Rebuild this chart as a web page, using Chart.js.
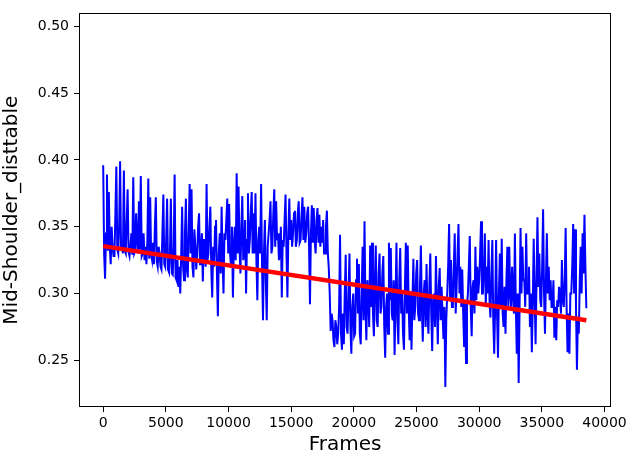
<!DOCTYPE html>
<html>
<head>
<meta charset="utf-8">
<script src="https://cdn.jsdelivr.net/npm/chart.js@4.4.1/dist/chart.umd.min.js"></script>
<style>
    html, body { margin: 0; padding: 0; background: #fff; }
    #chart { display: block; }
</style>
</head>
<body>
<canvas id="chart" width="630" height="457"></canvas>
<script>
// Data (one sample every FRAME_STEP frames)
const FRAME_STEP = 75;
const distValues = [
    0.396, 0.330, 0.311, 0.345, 0.389, 0.332, 0.376, 0.335, 0.322, 0.350,
    0.335, 0.328, 0.328, 0.360, 0.395, 0.333, 0.330, 0.352, 0.399, 0.334,
    0.335, 0.330, 0.392, 0.332, 0.330, 0.355, 0.378, 0.331, 0.328, 0.336,
    0.345, 0.329, 0.387, 0.330, 0.332, 0.360, 0.340, 0.330, 0.369, 0.333,
    0.388, 0.328, 0.330, 0.345, 0.325, 0.335, 0.322, 0.340, 0.386, 0.326,
    0.372, 0.329, 0.325, 0.338, 0.322, 0.350, 0.372, 0.324, 0.320, 0.335,
    0.330, 0.320, 0.318, 0.345, 0.374, 0.322, 0.320, 0.340, 0.371, 0.318,
    0.316, 0.330, 0.371, 0.315, 0.314, 0.335, 0.389, 0.312, 0.310, 0.325,
    0.305, 0.320, 0.300, 0.330, 0.365, 0.320, 0.310, 0.345, 0.371, 0.318,
    0.312, 0.350, 0.382, 0.330, 0.378, 0.320, 0.312, 0.348, 0.335, 0.318,
    0.330, 0.350, 0.360, 0.322, 0.330, 0.345, 0.309, 0.340, 0.340, 0.320,
    0.382, 0.325, 0.330, 0.350, 0.365, 0.318, 0.297, 0.335, 0.320, 0.350,
    0.355, 0.315, 0.283, 0.330, 0.345, 0.315, 0.365, 0.325, 0.300, 0.345,
    0.340, 0.355, 0.371, 0.330, 0.367, 0.330, 0.320, 0.350, 0.297, 0.335,
    0.350, 0.325, 0.390, 0.330, 0.380, 0.335, 0.315, 0.350, 0.373, 0.325,
    0.330, 0.355, 0.300, 0.340, 0.375, 0.330, 0.340, 0.360, 0.376, 0.330,
    0.360, 0.330, 0.375, 0.325, 0.295, 0.340, 0.350, 0.330, 0.382, 0.320,
    0.280, 0.330, 0.355, 0.310, 0.280, 0.335, 0.345, 0.355, 0.369, 0.330,
    0.335, 0.360, 0.378, 0.335, 0.369, 0.340, 0.345, 0.325, 0.330, 0.350,
    0.297, 0.340, 0.335, 0.355, 0.374, 0.330, 0.297, 0.345, 0.371, 0.340,
    0.355, 0.335, 0.345, 0.360, 0.362, 0.335, 0.340, 0.360, 0.369, 0.338,
    0.340, 0.358, 0.372, 0.340, 0.365, 0.338, 0.345, 0.360, 0.365, 0.335,
    0.292, 0.345, 0.366, 0.338, 0.364, 0.340, 0.330, 0.355, 0.364, 0.338,
    0.359, 0.335, 0.350, 0.338, 0.355, 0.330, 0.330, 0.350, 0.362, 0.330,
    0.319, 0.300, 0.272, 0.285, 0.280, 0.265, 0.260, 0.280, 0.275, 0.262,
    0.270, 0.290, 0.344, 0.270, 0.258, 0.285, 0.262, 0.300, 0.329, 0.275,
    0.270, 0.300, 0.330, 0.275, 0.255, 0.290, 0.300, 0.268, 0.270, 0.310,
    0.326, 0.285, 0.322, 0.270, 0.262, 0.300, 0.335, 0.280, 0.354, 0.290,
    0.265, 0.310, 0.300, 0.275, 0.336, 0.290, 0.338, 0.285, 0.268, 0.310,
    0.336, 0.280, 0.275, 0.315, 0.330, 0.285, 0.290, 0.315, 0.328, 0.275,
    0.252, 0.290, 0.300, 0.270, 0.338, 0.295, 0.334, 0.285, 0.280, 0.310,
    0.254, 0.295, 0.338, 0.280, 0.262, 0.310, 0.334, 0.285, 0.300, 0.270,
    0.258, 0.305, 0.338, 0.285, 0.336, 0.290, 0.265, 0.300, 0.258, 0.295,
    0.326, 0.280, 0.290, 0.315, 0.325, 0.285, 0.280, 0.305, 0.336, 0.290,
    0.264, 0.300, 0.310, 0.275, 0.322, 0.285, 0.270, 0.305, 0.330, 0.285,
    0.257, 0.295, 0.300, 0.275, 0.328, 0.290, 0.262, 0.305, 0.319, 0.280,
    0.305, 0.285, 0.266, 0.290, 0.230, 0.280, 0.300, 0.320, 0.352, 0.295,
    0.325, 0.290, 0.290, 0.320, 0.345, 0.285, 0.305, 0.330, 0.352, 0.300,
    0.320, 0.290, 0.318, 0.285, 0.260, 0.295, 0.248, 0.290, 0.300, 0.320,
    0.343, 0.290, 0.268, 0.305, 0.310, 0.285, 0.335, 0.295, 0.320, 0.300,
    0.310, 0.330, 0.354, 0.300, 0.300, 0.320, 0.345, 0.290, 0.320, 0.300,
    0.340, 0.295, 0.282, 0.315, 0.340, 0.280, 0.255, 0.290, 0.340, 0.285,
    0.252, 0.300, 0.330, 0.290, 0.341, 0.285, 0.275, 0.305, 0.270, 0.310,
    0.335, 0.290, 0.335, 0.300, 0.290, 0.320, 0.300, 0.285, 0.345, 0.290,
    0.255, 0.300, 0.233, 0.290, 0.349, 0.300, 0.335, 0.310, 0.310, 0.290,
    0.345, 0.300, 0.300, 0.320, 0.275, 0.300, 0.256, 0.290, 0.341, 0.300,
    0.262, 0.310, 0.357, 0.305, 0.330, 0.295, 0.290, 0.320, 0.363, 0.300,
    0.270, 0.310, 0.345, 0.300, 0.320, 0.295, 0.310, 0.290, 0.290, 0.310,
    0.267, 0.290, 0.265, 0.295, 0.290, 0.305, 0.300, 0.285, 0.325, 0.295,
    0.290, 0.310, 0.349, 0.290, 0.256, 0.285, 0.255, 0.300, 0.300, 0.320,
    0.352, 0.300, 0.348, 0.290, 0.243, 0.280, 0.270, 0.310, 0.335, 0.300,
    0.345, 0.315, 0.359, 0.320, 0.289
];
const trendFrames = [0, 38550];
const trendValues = [0.3355, 0.2800];
const xTicks = [0, 5000, 10000, 15000, 20000, 25000, 30000, 35000, 40000];
const yTicks = [0.25, 0.30, 0.35, 0.40, 0.45, 0.50];

const FONT = "'DejaVu Sans', sans-serif";

// matplotlib-like box around the plot area
const frameBox = {
    id: 'frameBox',
    afterDraw(chart) {
        const { ctx, chartArea: a } = chart;
        const l = Math.round(a.left) + 0.5, t = Math.round(a.top) + 0.5;
        const r = Math.round(a.right) - 0.5, b = Math.round(a.bottom) - 0.5;
        ctx.save();
        ctx.strokeStyle = '#000';
        ctx.lineWidth = 1;
        ctx.strokeRect(l, t, r - l, b - t);
        ctx.restore();
    }
};

const distPoints = distValues.map((v, i) => ({ x: i * FRAME_STEP, y: v }));
const trendPoints = trendFrames.map((f, i) => ({ x: f, y: trendValues[i] }));

new Chart(document.getElementById('chart'), {
    type: 'line',
    data: {
        datasets: [{
            label: 'Trend',
            data: trendPoints,
            borderColor: '#ff0000',
            borderWidth: 4.4,
            pointRadius: 0,
            borderCapStyle: 'butt',
            order: 0
        }, {
            label: 'Mid-Shoulder_disttable',
            data: distPoints,
            borderColor: '#0000ff',
            borderWidth: 2,
            pointRadius: 0,
            tension: 0,
            order: 1
        }]
    },
    options: {
        responsive: false,
        animation: false,
        layout: { padding: { top: 10, right: 18, left: 0, bottom: 0 } },
        plugins: {
            legend: { display: false },
            tooltip: { enabled: false }
        },
        scales: {
            x: {
                type: 'linear',
                min: -1930,
                max: 40530,
                afterBuildTicks: scale => { scale.ticks = xTicks.map(v => ({ value: v })); },
                afterFit: scale => { scale.height = 50; },
                ticks: {
                    color: '#000',
                    font: { family: FONT, size: 14 },
                    padding: 3,
                    maxRotation: 0,
                    callback: v => String(v)
                },
                grid: { drawOnChartArea: false, drawTicks: true, tickLength: 5, tickColor: '#000' },
                border: { display: false },
                title: {
                    display: true,
                    text: 'Frames',
                    color: '#000',
                    font: { family: FONT, size: 20 },
                    padding: { top: 0, bottom: 0 }
                }
            },
            y: {
                min: 0.2151,
                max: 0.5096,
                afterBuildTicks: scale => { scale.ticks = yTicks.map(v => ({ value: v })); },
                afterFit: scale => { scale.width = 79; },
                ticks: {
                    color: '#000',
                    font: { family: FONT, size: 14 },
                    padding: 5,
                    callback: v => v.toFixed(2)
                },
                grid: { drawOnChartArea: false, drawTicks: true, tickLength: 5, tickColor: '#000' },
                border: { display: false },
                title: {
                    display: true,
                    text: 'Mid-Shoulder_disttable',
                    color: '#000',
                    font: { family: FONT, size: 20 },
                    padding: { top: 0, bottom: 9 }
                }
            }
        }
    },
    plugins: [frameBox]
});
</script>
</body>
</html>
